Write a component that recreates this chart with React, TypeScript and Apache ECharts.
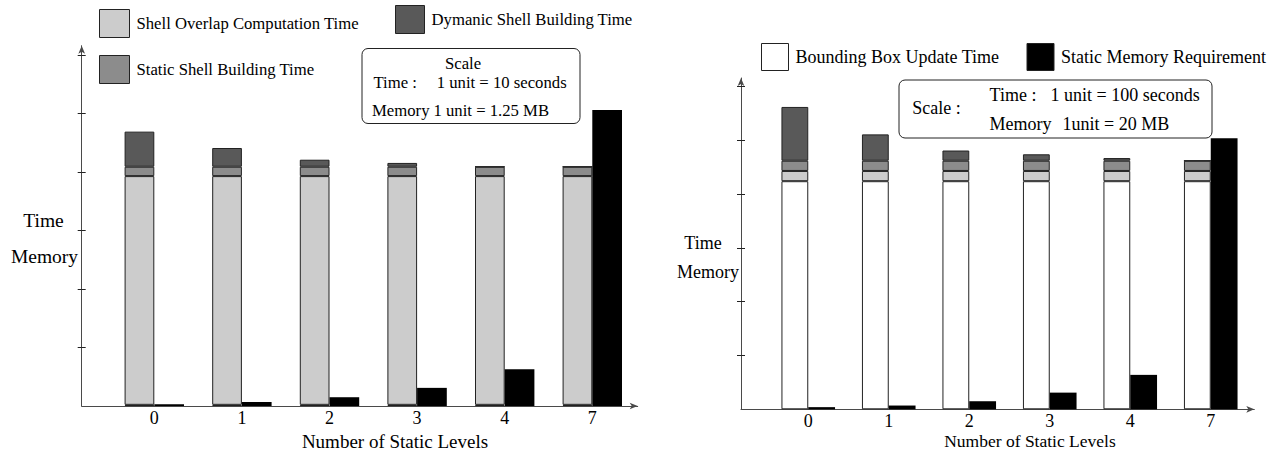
import { useEffect, useRef } from "react";
import * as echarts from "echarts";

const categories = ["0", "1", "2", "3", "4", "7"];
const tickValues = [1, 2, 3, 4, 5, 6];

// Left figure (Time: 1 unit = 10 s, Memory: 1 unit = 1.25 MB)
const leftBoundingBox = [0.02, 0.02, 0.02, 0.02, 0.02, 0.02];
const leftShellOverlap = [3.91, 3.91, 3.91, 3.91, 3.91, 3.91];
const leftStaticShell = [0.16, 0.16, 0.16, 0.16, 0.16, 0.16];
const leftDynamicShell = [0.6, 0.32, 0.12, 0.065, 0, 0];
const leftMemory = [0.03, 0.07, 0.15, 0.31, 0.63, 5.06];

// Right figure (Time: 1 unit = 100 s, Memory: 1 unit = 20 MB)
const rightBoundingBox = [4.24, 4.24, 4.24, 4.24, 4.24, 4.24];
const rightShellOverlap = [0.19, 0.19, 0.19, 0.19, 0.19, 0.19];
const rightStaticShell = [0.19, 0.19, 0.19, 0.19, 0.19, 0.19];
const rightDynamicShell = [1.0, 0.49, 0.19, 0.12, 0.05, 0];
const rightMemory = [0.04, 0.07, 0.15, 0.31, 0.64, 5.04];

const N_BB = "Bounding Box Update Time";
const N_SO = "Shell Overlap Computation Time";
const N_SS = "Static Shell Building Time";
const N_DS = "Dymanic Shell Building Time";
const N_MEM = "Static Memory Requirement";
const X_TITLE = "Number of Static Levels";

const COLORS: Record<string, string> = {
  [N_BB]: "#ffffff",
  [N_SO]: "#cccccc",
  [N_SS]: "#8c8c8c",
  [N_DS]: "#595959",
  [N_MEM]: "#000000",
};

const FONT = "Liberation Serif";

export default function App() {
  const ref = useRef<HTMLDivElement>(null);

  useEffect(() => {
    if (!ref.current) return;
    const chart = echarts.init(ref.current, undefined, { renderer: "svg" });

    const L = { ax: 81.7, base: 406, unit: 58.5, top: 45.7, xEnd: 637.7, bandLeft: 110.5, bandW: 525.6, barW: 29.7 };
    const R = { ax: 741, base: 409.3, unit: 53.8, top: 78, xEnd: 1254.3, bandLeft: 768, bandW: 483, barW: 26.8 };
    const maxL = (L.base - L.top) / L.unit;
    const maxR = (R.base - R.top) / R.unit;

    const mkGrid = (left: number, top: number, width: number, height: number) => ({
      left, top, width, height, containLabel: false, outerBoundsMode: "none",
    });

    const axisLineStyle = { color: "#4a4a4a", width: 1 };

    const axesX = (gridIndex: number) => ({
      type: "value", gridIndex, min: 0, max: 1,
      axisLine: { show: true, onZero: false, lineStyle: axisLineStyle, symbol: ["none", "arrow"], symbolSize: [5, 8] },
      axisTick: { show: false }, axisLabel: { show: false }, splitLine: { show: false },
    });
    const axesY = (gridIndex: number, max: number, inside: boolean) => ({
      type: "value", gridIndex, min: 0, max, position: "left",
      axisLine: inside ? { show: false } : { show: true, lineStyle: axisLineStyle, symbol: ["none", "arrow"], symbolSize: [5, 8] },
      axisTick: { show: true, inside, length: 4, customValues: tickValues, lineStyle: { color: "#222", width: 1 } },
      axisLabel: { show: false }, splitLine: { show: false },
    });
    const catX = (gridIndex: number) => ({
      type: "category", gridIndex, data: categories,
      axisLine: { show: false }, axisTick: { show: false }, splitLine: { show: false },
      axisLabel: { color: "#000", fontFamily: FONT, fontSize: 18, margin: 3 },
    });
    const hiddenY = (gridIndex: number, max: number) => ({
      type: "value", gridIndex, min: 0, max, show: false, splitLine: { show: false },
    });

    const mkSeries = (name: string, data: number[], xi: number, yi: number, stack: string, barW: number) => ({
      type: "bar", name, data, xAxisIndex: xi, yAxisIndex: yi, stack,
      barWidth: barW, barGap: "0%",
      itemStyle: {
        color: COLORS[name],
        borderColor: name === N_MEM ? "#000" : "#222",
        borderWidth: name === N_MEM ? 0 : 1,
      },
      emphasis: { disabled: true },
      silent: true,
    });

    const legendItem = (name: string, left: number, top: number, w: number, h: number, fs: number) => ({
      data: [name], left, top, padding: 0, itemWidth: w, itemHeight: h, icon: "rect",
      selectedMode: false, itemGap: 0,
      itemStyle: { borderColor: "#222", borderWidth: 1 },
      textStyle: { color: "#000", fontFamily: FONT, fontSize: fs, padding: [0, 0, 0, 2] },
    });

    const txt = (text: string, x: number, y: number, fs: number, align = "left") => ({
      type: "text", x, y, silent: true,
      style: { text, fontFamily: FONT, fontSize: fs, fill: "#000", align, verticalAlign: "middle" },
    });

    const option: any = {
      animation: false,
      textStyle: { fontFamily: FONT },
      grid: [
        mkGrid(L.ax, L.top, L.xEnd - L.ax, L.base - L.top),
        mkGrid(L.bandLeft, L.top, L.bandW, L.base - L.top),
        mkGrid(R.ax, R.top, R.xEnd - R.ax, R.base - R.top),
        mkGrid(R.bandLeft, R.top, R.bandW, R.base - R.top),
      ],
      xAxis: [axesX(0), catX(1), axesX(2), catX(3)],
      yAxis: [
        axesY(0, maxL, false), axesY(0, maxL, true), hiddenY(1, maxL),
        axesY(2, maxR, false), axesY(2, maxR, true), hiddenY(3, maxR),
      ],
      legend: [
        legendItem(N_SO, 99, 9, 30, 28, 16.7),
        legendItem(N_DS, 395, 5, 29, 28, 16.7),
        legendItem(N_SS, 99, 55, 30, 28, 16.7),
        legendItem(N_BB, 761, 43, 27, 27, 18),
        legendItem(N_MEM, 1026.5, 43, 27, 27, 18),
      ],
      series: [
        mkSeries(N_BB, leftBoundingBox, 1, 2, "timeL", L.barW),
        mkSeries(N_SO, leftShellOverlap, 1, 2, "timeL", L.barW),
        mkSeries(N_SS, leftStaticShell, 1, 2, "timeL", L.barW),
        mkSeries(N_DS, leftDynamicShell, 1, 2, "timeL", L.barW),
        mkSeries(N_MEM, leftMemory, 1, 2, "memL", L.barW),
        mkSeries(N_BB, rightBoundingBox, 3, 5, "timeR", R.barW),
        mkSeries(N_SO, rightShellOverlap, 3, 5, "timeR", R.barW),
        mkSeries(N_SS, rightStaticShell, 3, 5, "timeR", R.barW),
        mkSeries(N_DS, rightDynamicShell, 3, 5, "timeR", R.barW),
        mkSeries(N_MEM, rightMemory, 3, 5, "memR", R.barW),
      ],
      graphic: [
        { type: "rect", shape: { x: 362, y: 48.5, width: 218, height: 75, r: 6 }, style: { fill: "#fff", stroke: "#222", lineWidth: 1 }, silent: true, z: 10 },
        { ...txt("Scale", 463, 63, 16.7, "center"), z: 11 },
        { ...txt("Time :", 373.5, 82.7, 16.7), z: 11 },
        { ...txt("1 unit = 10 seconds", 436.7, 82.7, 16.7), z: 11 },
        { ...txt("Memory", 372, 110.4, 16.7), z: 11 },
        { ...txt("1 unit = 1.25 MB", 433.5, 110.4, 16.7), z: 11 },

        { type: "rect", shape: { x: 899, y: 80, width: 313, height: 58, r: 6 }, style: { fill: "#fff", stroke: "#222", lineWidth: 1 }, silent: true, z: 10 },
        { ...txt("Scale :", 912.3, 107.6, 18), z: 11 },
        { ...txt("Time :", 989.6, 94.5, 18), z: 11 },
        { ...txt("1 unit = 100 seconds", 1050.5, 94.5, 18), z: 11 },
        { ...txt("Memory", 989.6, 123.9, 18), z: 11 },
        { ...txt("1unit = 20 MB", 1062.5, 123.9, 18), z: 11 },

        txt("Time", 43.5, 220, 19.5, "center"),
        txt("Memory", 44.5, 256, 19.5, "center"),
        txt("Time", 703, 243, 18, "center"),
        txt("Memory", 708, 272, 18, "center"),

        txt(X_TITLE, 395, 441.5, 19, "center"),
        txt(X_TITLE, 1030, 440.5, 17.5, "center"),
      ],
    };

    chart.setOption(option);
    return () => chart.dispose();
  }, []);

  return (
    <div
      ref={ref}
      style={{ position: "absolute", left: 0, top: 0, width: 1278, height: 453 }}
    />
  );
}
